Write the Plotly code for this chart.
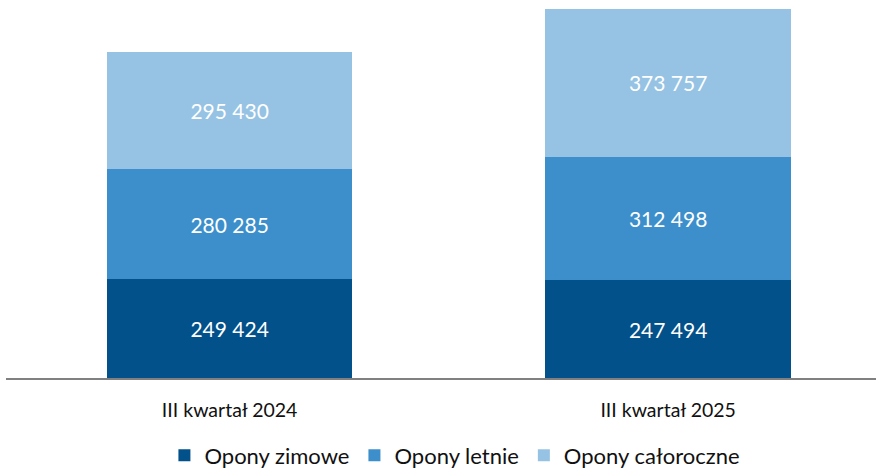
import plotly.graph_objects as go

categories = ["III kwartał 2024", "III kwartał 2025"]
series_names = ["Opony zimowe", "Opony letnie", "Opony całoroczne"]
zimowe = [249424, 247494]
letnie = [280285, 312498]
caloroczne = [295430, 373757]
colors = ["#02518A", "#3C8FCB", "#96C3E4"]

def fmt(v):
    return f"{v:,}".replace(",", " ")

fig = go.Figure()
for name, vals, col in zip(series_names, [zimowe, letnie, caloroczne], colors):
    fig.add_trace(go.Bar(
        x=categories, y=vals, name=name, marker=dict(color=col, line=dict(width=0)),
        text=[fmt(v) for v in vals], textposition="inside", insidetextanchor="middle",
        textfont=dict(color="white", size=21, family="Lato"),
        width=0.56, hoverinfo="skip",
    ))

total_max = max(a + b + c for a, b, c in zip(zimowe, letnie, caloroczne))
fig.update_layout(
    barmode="stack",
    width=876, height=470,
    margin=dict(l=6, r=0, t=9, b=92, autoexpand=False),
    paper_bgcolor="white", plot_bgcolor="white",
    font=dict(family="Lato", color="#111111"),
    showlegend=True,
    legend=dict(orientation="h", x=0.516, xanchor="center", y=-0.21, yanchor="middle",
                font=dict(size=22, color="#111111"), traceorder="normal",
                itemwidth=30, tracegroupgap=0),
)
fig.update_xaxes(range=[-0.51, 1.474], showline=True, linecolor="#808080", linewidth=1.5,
                 ticks="", tickfont=dict(size=19.5, color="#111111"), ticklabelstandoff=14,
                 showgrid=False, zeroline=False, automargin=False)
fig.update_yaxes(range=[0, total_max], visible=False, showgrid=False, zeroline=False,
                 automargin=False)

fig.write_html("out.html", config={"displayModeBar": False},
               post_script="document.body.style.margin='0';document.body.style.overflow='hidden';")
